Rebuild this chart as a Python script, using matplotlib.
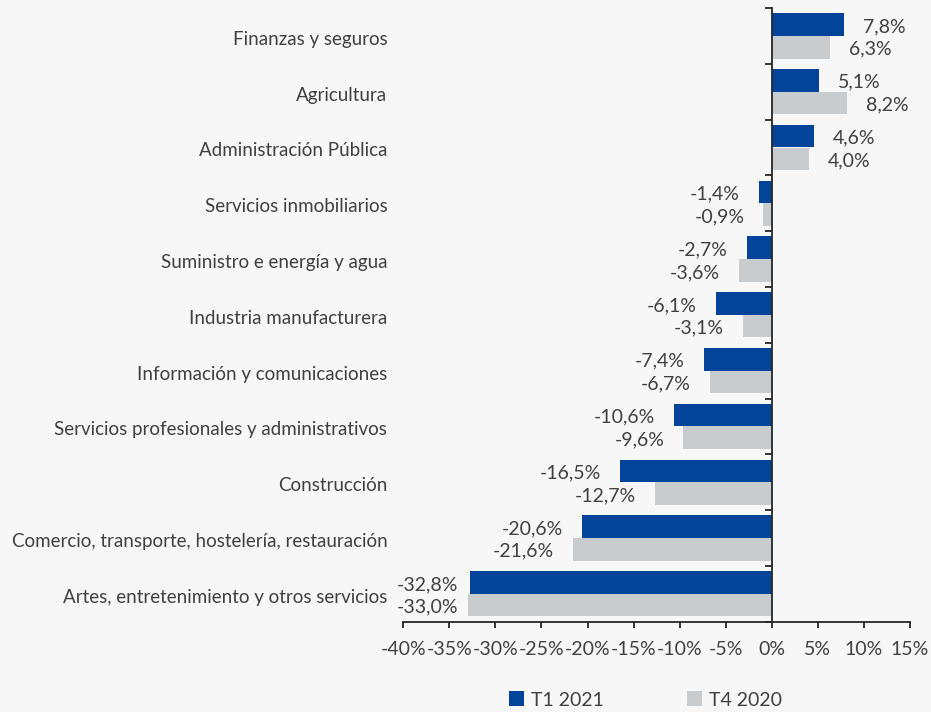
import matplotlib
matplotlib.use("Agg")
import matplotlib.pyplot as plt
import matplotlib.transforms as mtransforms
from matplotlib.patches import Patch
from matplotlib.ticker import FixedLocator, FuncFormatter

categories = [
    "Finanzas y seguros",
    "Agricultura",
    "Administración Pública",
    "Servicios inmobiliarios",
    "Suministro e energía y agua",
    "Industria manufacturera",
    "Información y comunicaciones",
    "Servicios profesionales y administrativos",
    "Construcción",
    "Comercio, transporte, hostelería, restauración",
    "Artes, entretenimiento y otros servicios",
]
t1_2021 = [7.8, 5.1, 4.6, -1.4, -2.7, -6.1, -7.4, -10.6, -16.5, -20.6, -32.8]
t4_2020 = [6.3, 8.2, 4.0, -0.9, -3.6, -3.1, -6.7, -9.6, -12.7, -21.6, -33.0]
series_names = ["T1 2021", "T4 2020"]
x_ticks = [-40, -35, -30, -25, -20, -15, -10, -5, 0, 5, 10, 15]

BLUE = "#02449A"
GRAY = "#C9CCCF"
BG = "#F7F7F7"
TXT = "#404040"
AXC = "#262626"
FONT = ["Lato", "DejaVu Sans"]
FS = 14
FS_CAT = 13.5
WEIGHT = "normal"

plt.rcParams["font.family"] = FONT

W, H = 931, 712
L, R, T, B = 403.3, 909.9, 8.0, 621.7
fig = plt.figure(figsize=(W / 100, H / 100), dpi=100, facecolor=BG)
ax = fig.add_axes([L / W, 1 - B / H, (R - L) / W, (B - T) / H])
ax.set_facecolor(BG)

n = len(categories)
ypos = list(range(n))
h = 0.405
off = 0.203
ax.barh([y - off for y in ypos], t1_2021, height=h, color=BLUE, zorder=2)
ax.barh([y + off for y in ypos], t4_2020, height=h, color=GRAY, zorder=2)

ax.set_xlim(x_ticks[0], x_ticks[-1])
ax.set_ylim(n - 0.5, -0.5)

for s in ["top", "right"]:
    ax.spines[s].set_visible(False)
ax.spines["left"].set_position(("data", 0))
ax.spines["left"].set_color(AXC)
ax.spines["left"].set_linewidth(1.3)
ax.spines["left"].set_zorder(3)
ax.spines["bottom"].set_color(AXC)
ax.spines["bottom"].set_linewidth(1.3)

ax.yaxis.set_major_locator(FixedLocator([y - 0.5 for y in range(n + 1)]))
ax.yaxis.set_major_formatter(FuncFormatter(lambda v, p: ""))
ax.tick_params(axis="y", direction="out", length=5, width=1.3, color=AXC)

ax.xaxis.set_major_locator(FixedLocator(x_ticks))
ax.xaxis.set_major_formatter(FuncFormatter(lambda v, p: f"{int(round(v))}%"))
ax.tick_params(axis="x", direction="out", length=4, width=1.3, color=AXC,
               labelsize=FS, labelcolor=TXT, pad=10)
for lab in ax.get_xticklabels():
    lab.set_fontweight(WEIGHT)

trans = mtransforms.blended_transform_factory(ax.transAxes, ax.transData)
trans_cat = mtransforms.offset_copy(trans, fig=fig, x=0, y=-3.5, units="dots")
for y, c in zip(ypos, categories):
    ax.text(-16 / (R - L), y, c, transform=trans_cat, ha="right", va="center",
            fontsize=FS_CAT, color=TXT, fontweight=WEIGHT)

px_per_unit = (R - L) / (x_ticks[-1] - x_ticks[0])
gap = 19 / px_per_unit
min_right = -34.0
trans_val = mtransforms.offset_copy(ax.transData, fig=fig, x=0, y=-2, units="dots")

def fmt(v):
    return f"{v:.1f}%".replace(".", ",")

for vals, dy in [(t1_2021, -off), (t4_2020, off)]:
    for y, v in zip(ypos, vals):
        if v >= 0:
            ax.text(v + gap, y + dy, fmt(v), ha="left", va="center", transform=trans_val,
                    fontsize=FS, color=TXT, fontweight=WEIGHT)
        else:
            xr = max(v - gap, min_right)
            ax.text(xr, y + dy, fmt(v), ha="right", va="center", transform=trans_val,
                    fontsize=FS, color=TXT, fontweight=WEIGHT)

handles = [Patch(facecolor=BLUE, edgecolor="none"), Patch(facecolor=GRAY, edgecolor="none")]
leg = fig.legend(handles, series_names, loc="center", bbox_to_anchor=(645.5 / W, 1 - 700 / H),
                 ncol=2, frameon=False, fontsize=FS, handlelength=0.78, handleheight=0.78,
                 handletextpad=0.36, columnspacing=4.3, borderpad=0, borderaxespad=0)
for t in leg.get_texts():
    t.set_color(TXT)
    t.set_fontweight(WEIGHT)

fig.savefig("out.png", dpi=100, facecolor=BG)
